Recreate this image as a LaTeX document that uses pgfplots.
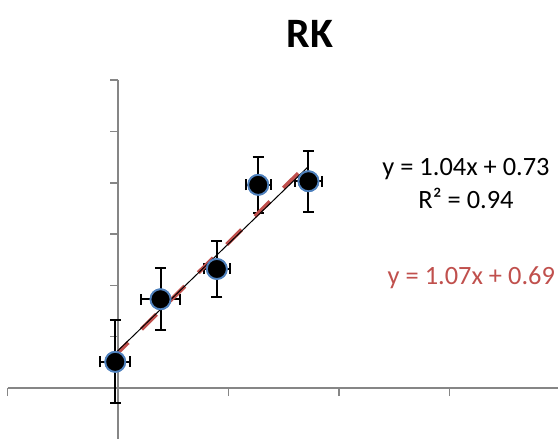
\documentclass[border=0pt]{standalone}
\usepackage{fontspec}
\setmainfont{Carlito}
\usepackage{pgfplots}
\usepackage{pgfplotstable}
\pgfplotsset{compat=1.18}
\definecolor{axgray}{HTML}{868686}
\definecolor{mblue}{HTML}{4F81BD}
\definecolor{tred}{HTML}{C0504D}
\pgfplotstableread{
x     y     ex    ey
-0.05 0.51  0.27  0.81
0.77  1.73  0.35  0.60
1.79  2.32  0.24  0.54
2.54  3.96  0.23  0.54
3.45  4.03  0.24  0.59
}\rkdata
\begin{document}
\begin{tikzpicture}
\begin{axis}[
  x=55.2bp, y=51.3bp,
  xmin=-2, xmax=7.97, ymin=-0.99, ymax=6,
  axis lines=middle,
  axis line style={-, draw=axgray, line width=1.5bp},
  xtick={-2,0,2,4,6}, ytick={1,2,3,4,5,6},
  xticklabels={}, yticklabels={},
  tick align=outside,
  major tick length=8bp,
  tick style={draw=axgray, line width=1.5bp},
  clip=false,
]
\addplot[only marks, mark=*, mark size=10bp,
  mark options={fill=black, draw=mblue, line width=1.8bp},
  error bars/.cd, x dir=both, x explicit, y dir=both, y explicit,
  error bar style={line width=2bp, black},
  error mark=-,
  error mark options={rotate=90, mark size=5.5bp, line width=2bp, black}]
  table[x=x, y=y, x error=ex, y error=ey] {\rkdata};
\addplot[tred, line width=4bp, dash pattern=on 21bp off 19bp, forget plot]
  coordinates {(-0.087,0.597) (3.45,4.382)};
\addplot[black, line width=1bp, forget plot]
  coordinates {(-0.05,0.678) (3.45,4.318)};
\addplot[only marks, mark=*, mark size=10bp,
  mark options={fill=black, draw=mblue, line width=1.8bp}]
  table[x=x, y=y] {\rkdata};
\node[anchor=base, inner sep=0pt, font=\bfseries\fontsize{42}{50}\selectfont] at (axis cs:3.478,6.64) {RK};
\node[anchor=base, inner sep=0pt, font=\fontsize{26.5}{32}\selectfont] at (axis cs:6.304,4.138) {y = 1.04x + 0.73};
\node[anchor=base, inner sep=0pt, font=\fontsize{26.5}{32}\selectfont] at (axis cs:6.304,3.503) {R² = 0.94};
\node[anchor=base, inner sep=0pt, text=tred, font=\fontsize{26.5}{32}\selectfont] at (axis cs:6.40,2.027) {y = 1.07x + 0.69};
\coordinate (bl) at (axis cs:-2.1377,-0.994);
\coordinate (tr) at (axis cs:7.97,7.563);
\end{axis}
\pgfresetboundingbox
\useasboundingbox (bl) rectangle (tr);
\end{tikzpicture}
\end{document}
